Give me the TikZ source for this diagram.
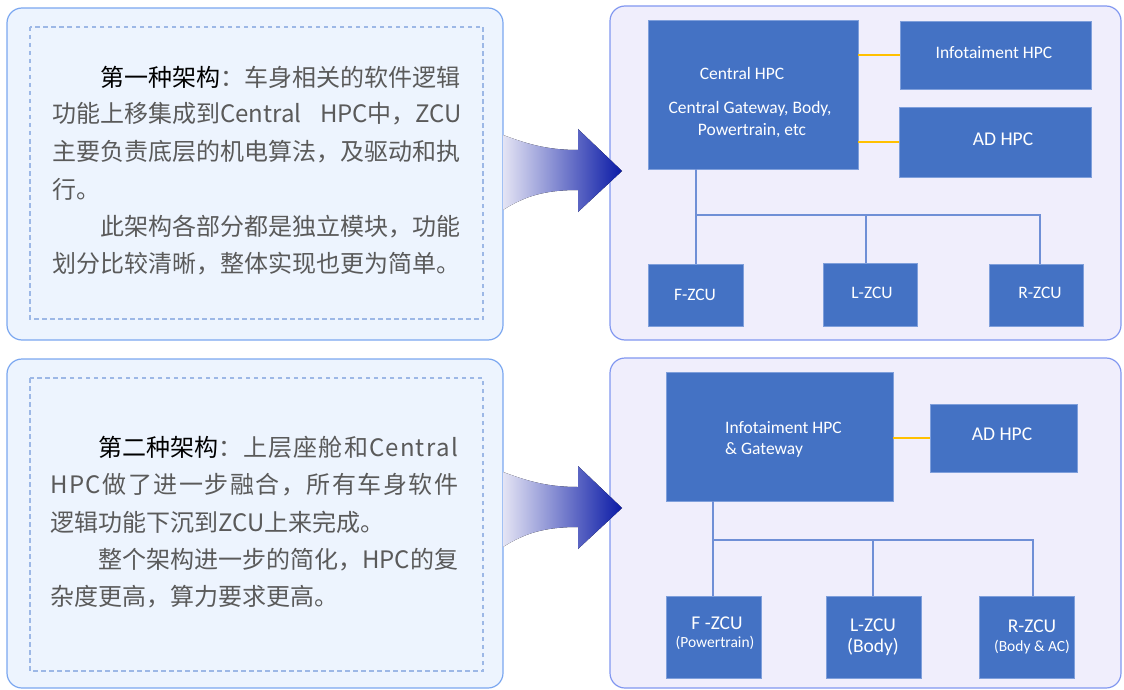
\documentclass[tikz,border=0pt]{standalone}
\usepackage{fontspec}
\setmainfont{Carlito}
\newfontfamily\cjk{Noto Sans CJK SC}
\definecolor{txtgray}{HTML}{5A5A5A}
\definecolor{boxblue}{HTML}{4472C4}
\definecolor{boxedge}{HTML}{7F9FDB}
\definecolor{connblue}{HTML}{6F8FD6}
\definecolor{yel}{HTML}{FFC000}
\definecolor{leftfill}{HTML}{EDF4FE}
\definecolor{leftedge}{HTML}{7BA7F0}
\definecolor{dashc}{HTML}{9DB8E6}
\definecolor{rightfill}{HTML}{F0EEFC}
\definecolor{rightedge}{HTML}{8197F0}
\definecolor{arrowlight}{HTML}{E4E4F4}
\definecolor{arrowdark}{HTML}{0A1AA6}
\def\spreadit#1{\ifx\relax#1\else#1\hskip0pt plus 1fil\relax\expandafter\spreadit\fi}
\begin{document}
\begin{tikzpicture}[x=1pt,y=-1pt,
  leftpanel/.style={fill=leftfill,draw=leftedge,line width=1.2pt,rounded corners=15pt},
  dashpanel/.style={draw=dashc,line width=1.1pt,dash pattern=on 4.5pt off 3.5pt},
  rightpanel/.style={fill=rightfill,draw=rightedge,line width=1.2pt,rounded corners=15pt},
  cjkline/.style={anchor=west,inner sep=0pt,text=txtgray,font=\cjk\fontsize{24}{24}\selectfont},
  blk/.style={fill=boxblue,draw=boxedge,line width=0.8pt,inner sep=0pt},
  btxt/.style={text=white,inner sep=0pt,font=\fontsize{17.5}{21}\selectfont},
  bigtxt/.style={text=white,inner sep=0pt,font=\fontsize{19.5}{22}\selectfont},
  smalltxt/.style={text=white,inner sep=0pt,font=\fontsize{15.5}{18}\selectfont},
  conn/.style={draw=connblue,line width=1.1pt},
  yline/.style={draw=yel,line width=1.6pt},
  bigarrow/.style={left color=arrowlight,right color=arrowdark}
]
\useasboundingbox (0,0) rectangle (1124,690);

% panels
\draw[rightpanel] (610,6) rectangle (1121,340);
\draw[rightpanel] (610,358) rectangle (1121,688);
\draw[leftpanel] (7,8) rectangle (503,340);
\draw[dashpanel] (30,27) rectangle (483,319);
\draw[leftpanel] (7,359) rectangle (503,688);
\draw[dashpanel] (30,378) rectangle (483,671);

% arrows
\fill[bigarrow] (503,135) .. controls (525,143) and (545,150) .. (578,150) -- (578,129) -- (622,171) -- (578,212) -- (578,190) .. controls (545,190) and (525,196) .. (503,210) -- cycle;
\begin{scope}[shift={(0,337)}]
\fill[bigarrow] (503,135) .. controls (525,143) and (545,150) .. (578,150) -- (578,129) -- (622,171) -- (578,212) -- (578,190) .. controls (545,190) and (525,196) .. (503,210) -- cycle;
\end{scope}

% text of box 1
\node[cjkline] (a1) at (100,77) {{\color{black}第一种架构}：车身相关的软件逻辑};
\node[cjkline] (a2) at (52,114) {\makebox[410pt][s]{功能上移集成到Central\hfill HPC中，ZCU}};
\node[cjkline] (a3) at (52,152) {主要负责底层的机电算法，及驱动和执};
\node[cjkline] (a4) at (52,189) {行。};
\node[cjkline] (a5) at (100,227) {此架构各部分都是独立模块，功能};
\node[cjkline] (a6) at (52,264) {划分比较清晰，整体实现也更为简单。};

% text of box 2
\node[cjkline] (b1) at (98,447) {\makebox[360pt][s]{{\color{black}第二种架构}\spreadit ：上层座舱和Centra\relax l}};
\node[cjkline] (b2) at (50,485) {\makebox[408pt][s]{\spreadit HPC做了进一步融合，所有车身软\relax 件}};
\node[cjkline] (b3) at (50,522) {逻辑功能下沉到ZCU上来完成。};
\node[cjkline] (b4) at (98,560) {\makebox[360pt][s]{\spreadit 整个架构进一步的简化，HPC的\relax 复}};
\node[cjkline] (b5) at (50,597) {杂度更高，算力要求更高。};

% top diagram
\node[blk,minimum width=210pt,minimum height=149pt] (chpc) at (753,94.5) {};
\node[blk,minimum width=191pt,minimum height=68pt] (info1) at (995.5,55) {};
\node[blk,minimum width=192pt,minimum height=70pt] (ad1) at (995,142) {};
\node[blk,minimum width=95pt,minimum height=62pt] (fz1) at (695.5,295) {};
\node[blk,minimum width=94pt,minimum height=63pt] (lz1) at (870,294.5) {};
\node[blk,minimum width=94pt,minimum height=62pt] (rz1) at (1036,295) {};
\node[btxt] (t1) at (742,73) {Central HPC};
\node[btxt] (t2) at (750,109) {Central Gateway, Body,};
\node[btxt] (t3) at (752,131) {Powertrain, etc};
\node[btxt] (t4) at (994,53) {Infotaiment HPC};
\node[bigtxt] (t5) at (1003,139) {AD HPC};
\node[btxt] (t6) at (695,295) {F-ZCU};
\node[btxt] (t7) at (872,293) {L-ZCU};
\node[btxt] (t8) at (1040,293) {R-ZCU};

\draw[yline] (info1.west -| chpc.east) -- (info1.west);
\draw[yline] (ad1.west -| chpc.east) -- (ad1.west);
\coordinate (j1) at (696,215);
\coordinate (j1m) at (866,215);
\coordinate (j1r) at (1040,215);
\draw[conn] (j1 |- chpc.south) -- (j1 |- fz1.north);
\draw[conn] (j1) -- (j1r) -- (j1r |- rz1.north);
\draw[conn] (j1m) -- (j1m |- lz1.north);

% bottom diagram
\node[blk,minimum width=227pt,minimum height=129pt] (ihpc) at (779.5,436.5) {};
\node[blk,minimum width=147pt,minimum height=68pt] (ad2) at (1003.5,438) {};
\node[blk,minimum width=95pt,minimum height=82pt] (fz2) at (713.5,637) {};
\node[blk,minimum width=95pt,minimum height=82pt] (lz2) at (873.5,637) {};
\node[blk,minimum width=95pt,minimum height=82pt] (rz2) at (1026.5,637) {};
\node[btxt,anchor=west,align=left] (u1) at (725,439) {Infotaiment HPC\\\& Gateway};
\node[bigtxt] (u2) at (1002,434) {AD HPC};
\node[bigtxt] (u3) at (717,623) {F -ZCU};
\node[smalltxt] (u4) at (715,643) {(Powertrain)};
\node[bigtxt] (u5) at (873,625) {L-ZCU};
\node[bigtxt] (u6) at (873,647) {(Body)};
\node[bigtxt] (u7) at (1032,626) {R-ZCU};
\node[smalltxt] (u8) at (1032,647) {(Body \& AC)};

\draw[yline] (ad2.west -| ihpc.east) -- (ad2.west);
\coordinate (j2) at (713,540);
\coordinate (j2m) at (873,540);
\coordinate (j2r) at (1033,540);
\draw[conn] (j2 |- ihpc.south) -- (j2 |- fz2.north);
\draw[conn] (j2) -- (j2r) -- (j2r |- rz2.north);
\draw[conn] (j2m) -- (j2m |- lz2.north);
\end{tikzpicture}
\end{document}
